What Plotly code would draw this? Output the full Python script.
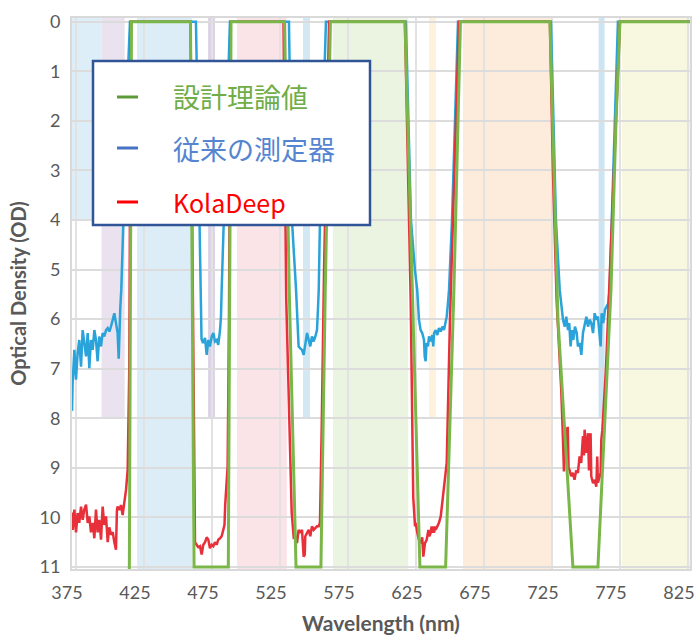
import plotly.graph_objects as go

# ---------------- data ----------------
x_ticks = [375, 425, 475, 525, 575, 625, 675, 725, 775, 825]
y_ticks = list(range(0, 12))

# design (theoretical) curve
design_wl = [372.0, 414.1, 415.8, 459.2, 461.8, 487.0, 489.0, 528.3, 531.8, 536.8,
             555.1, 558.3, 562.1, 616.9, 622.3, 627.9, 646.8, 652.9, 657.7, 723.5,
             729.4, 740.4, 758.8, 768.4, 772.1, 775.0, 826.5]
design_od = [12, 12, 0, 0, 11, 11, 0, 0, 5.4, 11,
             11, 5.4, 0, 0, 5.4, 11, 11, 5.4, 0, 0,
             6, 11, 11, 5.4, 2, 0, 0]

# conventional instrument
conv_wl = [372.1, 372.5, 373.8, 375.0, 376.2, 377.4, 378.7, 379.9, 381.1, 382.4,
           383.6, 384.8, 386.0, 387.3, 388.5, 389.7, 390.9, 392.1, 393.4, 394.6,
           395.8, 397.1, 398.3, 399.5, 400.7, 402.0, 403.2, 404.4, 405.6, 406.4,
           406.8, 407.6, 408.3, 410.3, 413.2, 414.7,
           463.2, 465.8, 466.5, 467.3, 468.4, 469.9, 471.1, 472.3, 473.5, 474.8,
           476.0, 477.2, 478.5, 479.6, 480.9, 481.6, 482.1, 483.8, 486.0, 488.2,
           531.6, 533.8, 536.8, 538.7, 539.9, 541.2, 542.4, 543.6, 544.9, 546.1,
           547.3, 548.5, 549.8, 551.0, 552.2, 552.9, 553.5, 554.4, 556.6, 558.8,
           617.6, 621.3, 624.2, 625.9, 627.2, 628.4, 629.6, 630.9, 631.4, 632.1,
           632.8, 633.8, 634.6, 635.8, 637.0, 637.7, 638.3, 639.5, 640.7, 641.9,
           643.2, 644.4, 645.6, 646.8, 647.6, 648.5, 649.3, 651.5, 653.7, 655.9,
           724.3, 727.9, 730.7, 733.1, 734.4, 735.5, 736.8, 737.7, 738.7, 739.7,
           740.7, 741.9, 743.2, 744.1, 745.4, 746.6, 747.8, 749.1, 750.3, 751.5,
           752.8, 753.9, 755.2, 756.4, 757.6, 758.8, 760.1, 760.8, 761.5, 762.7,
           764.0, 765.2, 766.4, 767.4, 769.1, 771.3, 773.5, 826.5]
conv_od = [7.85, 7.3, 6.62, 7.22, 6.69, 6.42, 6.96, 6.22, 6.48, 6.75,
           6.28, 6.99, 6.42, 6.62, 6.22, 6.42, 6.85, 6.35, 6.55, 6.28,
           6.35, 6.22, 6.18, 6.25, 6.15, 6.01, 5.88, 6.08, 6.28, 6.8,
           6.22, 5.75, 5.41, 3.5, 1.0, 0,
           0, 4, 5.4, 6.4, 6.48, 6.38, 6.72, 6.42, 6.55, 6.35,
           6.28, 6.45, 6.42, 6.52, 6.22, 5.95, 5.41, 4, 2, 0,
           0, 4, 5.4, 6.55, 6.59, 6.62, 6.72, 6.48, 6.28, 6.42,
           6.55, 6.35, 6.45, 6.35, 6.22, 5.81, 5.41, 4, 2, 0,
           0, 4, 5.0, 5.41, 6.01, 6.22, 6.28, 6.42, 6.75, 6.85,
           6.48, 6.55, 6.35, 6.45, 6.32, 6.55, 6.28, 6.22, 6.32, 6.18,
           6.25, 6.15, 6.22, 6.08, 5.95, 5.68, 5.41, 4, 2, 0,
           0, 4, 5.41, 6.01, 6.15, 5.95, 6.22, 6.08, 6.55, 6.22,
           6.42, 6.15, 6.28, 6.55, 6.48, 6.72, 6.28, 6.08, 5.95, 6.15,
           6.01, 6.08, 6.28, 5.88, 6.01, 5.95, 6.35, 6.55, 5.88, 6.08,
           5.81, 5.75, 5.68, 5.41, 4, 2, 0, 0]

# KolaDeep
kola_wl = [372.1, 372.6, 373.8, 375.0, 376.2, 377.4, 378.7, 379.9, 381.1, 382.4,
           383.6, 384.8, 386.0, 387.3, 388.5, 389.7, 390.9, 392.1, 393.4, 394.6,
           395.8, 397.1, 398.3, 399.5, 400.7, 402.0, 403.2, 404.4, 405.1, 405.6,
           406.8, 408.1, 409.3, 410.5, 411.8, 413.0, 413.7, 414.2, 414.8, 415.4,
           459.2, 462.1, 462.5, 463.7, 464.9, 466.2, 467.4, 468.6, 469.9, 471.1,
           472.3, 473.5, 474.8, 476.0, 477.2, 478.5, 479.6, 480.9, 482.1, 483.3,
           484.2, 484.7, 485.8, 486.5, 487.5, 488.6,
           527.6, 529.6, 533.6, 535.1, 536.3, 537.5, 538.7, 539.9, 541.2, 542.4,
           543.2, 543.6, 544.9, 546.1, 547.3, 548.5, 549.8, 551.0, 552.2, 553.5,
           554.4, 555.7, 557.4, 561.1,
           616.9, 621.1, 623.0, 624.3, 624.8, 626.0, 627.2, 628.4, 629.6, 630.4,
           630.9, 631.6, 632.9, 634.1, 634.8, 635.8, 636.5, 637.0, 637.7, 638.3,
           639.0, 639.5, 640.7, 641.9, 643.2, 644.4, 645.6, 646.8, 647.6, 650.0,
           653.7, 656.6,
           723.5, 725.7, 728.4, 731.8, 733.1, 733.8, 734.8, 735.4, 735.9, 736.6,
           737.2, 737.9, 739.1, 740.3, 741.6, 742.8, 744.1, 745.3, 746.5, 747.2,
           747.8, 748.5, 749.0, 750.3, 751.5, 752.2, 752.7, 753.4, 753.9, 755.2,
           756.4, 757.6, 758.3, 758.8, 760.1, 760.8, 761.3, 762.0, 764.7, 768.4,
           772.1, 775.0, 826.5]
kola_od = [9.9, 10.25, 9.84, 10.3, 9.91, 10.11, 9.78, 10.05, 9.84, 9.74,
           10.11, 9.98, 10.3, 10.11, 10.42, 9.84, 10.3, 10.05, 10.45, 9.78,
           10.15, 9.98, 10.5, 10.2, 10.35, 10.3, 10.5, 10.65, 9.85, 9.78,
           9.85, 9.75, 9.95, 9.71, 9.44, 9.04, 8.1, 6.96, 3.0, 0,
           0, 10.2, 10.5, 10.55, 10.6, 10.58, 10.75, 10.55, 10.5, 10.4,
           10.45, 10.62, 10.55, 10.58, 10.5, 10.55, 10.45, 10.42, 10.38, 10.25,
           10.15, 9.75, 9.17, 8.97, 6, 0,
           0, 5.6, 9.9, 10.4, 10.38, 10.52, 10.25, 10.31, 10.25, 10.79,
           10.75, 10.38, 10.31, 10.25, 10.38, 10.18, 10.25, 10.21, 10.18, 10.18,
           10.1, 8.17, 5, 0,
           0, 5.6, 9.6, 10.18, 10.11, 10.31, 10.45, 10.52, 10.4, 10.79,
           10.65, 10.52, 10.45, 10.25, 10.38, 10.31, 10.18, 10.31, 10.18, 10.31,
           10.18, 10.25, 10.18, 10.11, 9.98, 9.71, 9.44, 9.17, 8.9, 6,
           2.5, 0,
           0, 3, 5.61, 7.42, 8.43, 9.07, 8.2, 8.23, 8.9, 8.17,
           9.0, 9.04, 9.17, 9.1, 9.24, 9.05, 9.1, 8.77, 8.9, 8.6,
           8.36, 8.75, 8.23, 8.7, 8.3, 9.05, 8.8, 8.3, 9.17, 9.31,
           9.24, 9.38, 8.77, 9.3, 9.17, 9.1, 8.43, 8.25, 7, 4.5,
           2, 0, 0]

# background bands (wavelength start, end, lower OD edge)
band_start = [372.0, 393.8, 419.9, 472.1, 493.4, 541.9, 564.0, 634.6, 659.6, 759.3, 776.5]
band_end   = [393.8, 410.8, 460.3, 477.2, 530.1, 547.1, 619.3, 639.7, 725.7, 763.7, 826.5]
band_depth = [4, 8, 11.1, 8, 11.1, 8, 11.1, 8, 11.1, 8, 11.1]

legend_labels = ["設計理論値", "従来の測定器", "KolaDeep"]

# ---------------- styles ----------------
band_colors = ["#DDEEF8", "#EAE2EF", "#DCEDF8", "#DDD3E7", "#FBE4E7", "#D3E8F3",
               "#EBF3E1", "#FFF2DC", "#FDEBDC", "#CDE4F3", "#F8F8E0"]
c_design = "#7AB648"
c_conv = "#2AA3DA"
c_kola = "#E8303A"
legend_line_colors = ["#5E9A3A", "#4472C4", "#FF0000"]
legend_text_colors = ["#70AD47", "#5585D0", "#FF0000"]

W, H = 695, 637
L, R, T, B = 72, 5, 18, 68
PW, PH = W - L - R, H - T - B


def px(x):
    return (x - L) / PW


def py(y):
    return (H - B - y) / PH


fig = go.Figure()
fig.add_trace(go.Scatter(x=conv_wl, y=conv_od, mode="lines",
                         line=dict(color=c_conv, width=2.5), hoverinfo="skip",
                         showlegend=False))
fig.add_trace(go.Scatter(x=kola_wl, y=kola_od, mode="lines",
                         line=dict(color=c_kola, width=2.5), hoverinfo="skip",
                         showlegend=False))
fig.add_trace(go.Scatter(x=design_wl, y=design_od, mode="lines",
                         line=dict(color=c_design, width=3), hoverinfo="skip",
                         showlegend=False))

shapes = []
for s, e, d, c in zip(band_start, band_end, band_depth, band_colors):
    shapes.append(dict(type="rect", xref="x", yref="y", x0=s, x1=e, y0=-0.2, y1=d,
                       fillcolor=c, line=dict(width=0), layer="below"))

# legend box
shapes.append(dict(type="rect", xref="paper", yref="paper",
                   x0=px(93), x1=px(370), y0=py(225), y1=py(61),
                   fillcolor="white", line=dict(color="#2F5597", width=2.5),
                   layer="above"))
leg_y = [97, 148, 202]
annotations = []
for lbl, yy, lc, tc in zip(legend_labels, leg_y, legend_line_colors, legend_text_colors):
    shapes.append(dict(type="line", xref="paper", yref="paper",
                       x0=px(117), x1=px(138), y0=py(yy), y1=py(yy),
                       line=dict(color=lc, width=3), layer="above"))
    fsize = 25 if lbl == "KolaDeep" else 27
    annotations.append(dict(xref="paper", yref="paper", x=px(171), y=py(yy),
                            xanchor="left", yanchor="middle", showarrow=False,
                            text=lbl,
                            font=dict(family="Noto Sans CJK JP", size=fsize, color=tc)))

fig.update_layout(
    width=W, height=H,
    margin=dict(l=L, r=R, t=T, b=B),
    paper_bgcolor="white", plot_bgcolor="white",
    shapes=shapes, annotations=annotations,
    font=dict(family="Lato", color="#595959"),
    xaxis=dict(range=[372.06, 826.5], tickvals=x_ticks, automargin=False,
               ticktext=[str(v) for v in x_ticks], ticks="",
               showgrid=True, gridcolor="#E2E2E2", gridwidth=1.5,
               showline=True, linecolor="#D9D9D9", linewidth=2, mirror=True,
               zeroline=False, ticklabelshift=-9, ticklabelstandoff=6,
               ticklabeloverflow="allow",
               tickfont=dict(size=18, color="#595959"),
               title=dict(text="<b>Wavelength (nm)</b>", standoff=15,
                          font=dict(size=21, color="#595959"))),
    yaxis=dict(range=[11.04, -0.075], tickvals=y_ticks, ticks="", automargin=False,
               showgrid=True, gridcolor="#DCDCDC", gridwidth=2,
               showline=True, linecolor="#D9D9D9", linewidth=2, mirror=True,
               zeroline=False, ticklabelstandoff=6,
               tickfont=dict(size=18, color="#595959"),
               title=dict(text="<b>Optical Density (OD)</b>", standoff=8,
                          font=dict(size=20, color="#595959"))),
)

fig.write_html("out.html", config={"displayModeBar": False},
               post_script="document.body.style.margin='0';document.body.style.padding='0';")
